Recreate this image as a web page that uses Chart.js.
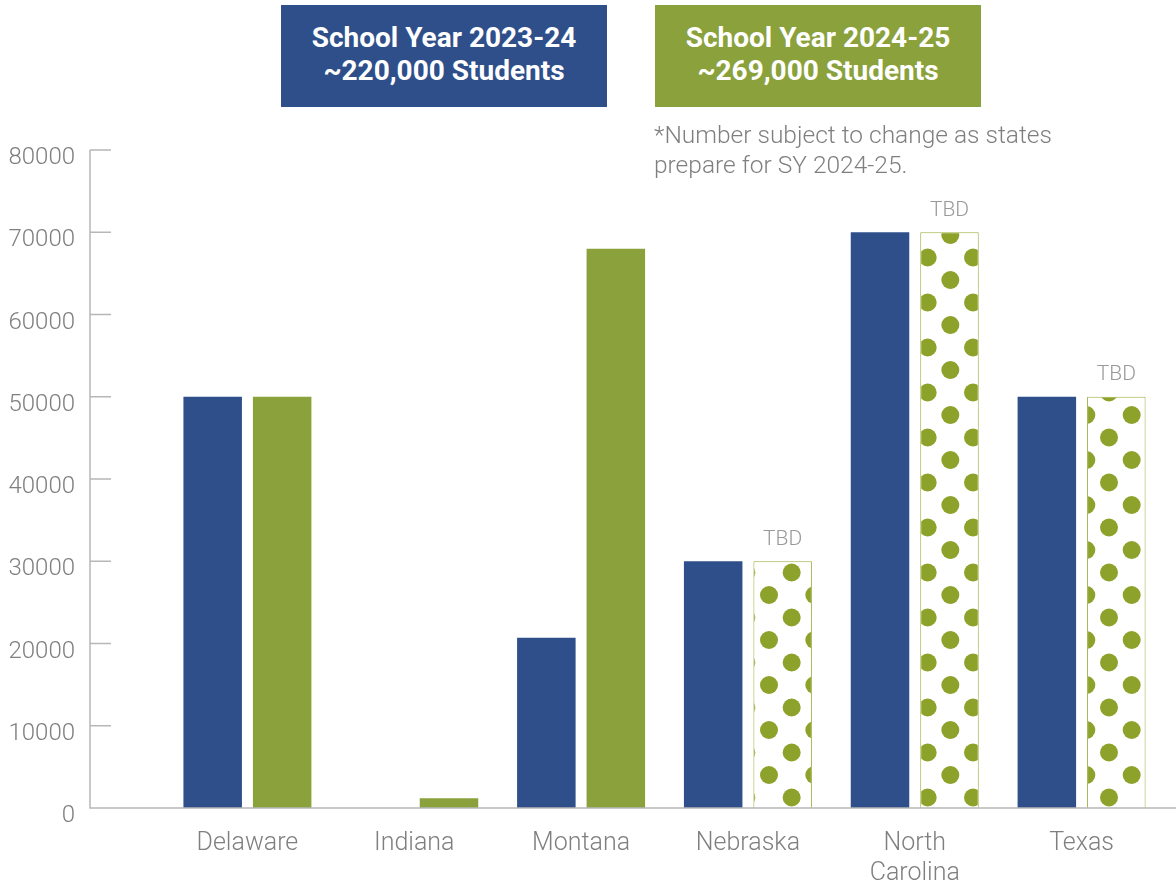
<!DOCTYPE html>
<html lang="en">
<head>
  <meta charset="UTF-8">
  <title>Students by State</title>
  <script src="https://cdn.jsdelivr.net/npm/chart.js"></script>
  <style>
    html, body { margin: 0; padding: 0; background: #fff; overflow: hidden; }
    .wrap { position: relative; width: 1176px; height: 888px; font-family: Roboto, sans-serif; }
    #studentsChart { position: absolute; left: 0; top: 0; }
    .head {
      position: absolute; top: 5px; width: 326px; height: 102px;
      box-sizing: border-box; padding-top: 16px;
      color: #fff; font-weight: 700; font-size: 28px; line-height: 33px; text-align: center;
    }
    .sy1 { left: 281px; background: #2F4F8B; }
    .sy2 { left: 655px; background: #8BA13C; }
    .note {
      position: absolute; left: 654px; top: 120px;
      font-size: 24.5px; font-weight: 300; line-height: 30px; color: #7f7f7f;
    }
  </style>
</head>
<body>
<div class="wrap">
  <canvas id="studentsChart" width="1176" height="888"></canvas>
  <div class="head sy1">School Year 2023-24<br>~220,000 Students</div>
  <div class="head sy2">School Year 2024-25<br>~269,000 Students</div>
  <div class="note">*Number subject to change as states<br>prepare for SY 2024-25.</div>
</div>

<script>
  // data
  const states = ['Delaware', 'Indiana', 'Montana', 'Nebraska', ['North', 'Carolina'], 'Texas'];
  const sy2324 = [50000, 0, 20700, 30000, 70000, 50000];
  const sy2425 = [50000, 1200, 68000, 30000, 70000, 50000];
  const tbd = [false, false, false, true, true, true];   // 2024-25 not final yet
  const yMax = 80000;
  const yStep = 10000;

  const BLUE = '#2F4F8B';
  const GREEN = '#8BA13C';
  const DOT = '#8DA22B';
  const GREY = '#7f7f7f';
  const AXIS = '#b7b7b7';

  // polka dot fill for the TBD bars
  function dotPattern() {
    const w = 136, h = 45;
    const c = document.createElement('canvas');
    c.width = w; c.height = h;
    const g = c.getContext('2d');
    g.fillStyle = '#fff';
    g.fillRect(0, 0, w, h);
    g.fillStyle = DOT;
    const pts = [[89, 10], [134.33, 10], [43.67, 10], [111.67, 32.5], [66.33, 32.5], [21, 32.5]];
    pts.forEach(([x, y]) => {
      [-w, 0, w].forEach(dx => {
        [-h, 0, h].forEach(dy => {
          g.beginPath();
          g.arc(x + dx, y + dy, 9, 0, Math.PI * 2);
          g.fill();
        });
      });
    });
    return g.createPattern(c, 'repeat');
  }
  const dots = dotPattern();

  // axis lines reach past the plot area, drawn by hand
  const axisLines = {
    id: 'axisLines',
    afterDatasetsDraw(chart) {
      const ctx = chart.ctx;
      const y = chart.scales.y;
      const x0 = 90;
      ctx.save();
      ctx.strokeStyle = AXIS;
      ctx.lineWidth = 1.5;
      ctx.beginPath();
      ctx.moveTo(x0, y.getPixelForValue(yMax));
      ctx.lineTo(x0, y.getPixelForValue(0));
      ctx.lineTo(chart.width, y.getPixelForValue(0));
      y.ticks.forEach(t => {
        const py = y.getPixelForValue(t.value);
        ctx.moveTo(x0, py);
        ctx.lineTo(x0 + 21, py);
      });
      ctx.stroke();

      // TBD labels
      const meta = chart.getDatasetMeta(1);
      ctx.fillStyle = '#999';
      ctx.font = '300 21px Roboto';
      ctx.textAlign = 'center';
      ctx.textBaseline = 'middle';
      meta.data.forEach((bar, i) => {
        if (tbd[i]) ctx.fillText('TBD', bar.x, bar.y - 22);
      });
      ctx.restore();
    }
  };

  const ctx = document.getElementById('studentsChart').getContext('2d');
  new Chart(ctx, {
    type: 'bar',
    data: {
      labels: states,
      datasets: [{
        label: 'School Year 2023-24',
        data: sy2324,
        backgroundColor: BLUE,
        borderWidth: 0
      }, {
        label: 'School Year 2024-25',
        data: sy2425,
        backgroundColor: tbd.map(t => t ? dots : GREEN),
        borderColor: '#9BAE3F',
        borderWidth: tbd.map(t => t ? 1 : 0)
      }]
    },
    options: {
      responsive: false,
      animation: false,
      categoryPercentage: 0.833,
      barPercentage: 0.842,
      layout: { padding: { top: 150, right: 11, left: 0, bottom: 0 } },
      plugins: {
        legend: { display: false },
        tooltip: { enabled: false }
      },
      scales: {
        x: {
          grid: { display: false },
          border: { display: false },
          ticks: {
            color: GREY,
            padding: 13,
            font: { family: 'Roboto', size: 25, weight: '300', lineHeight: 1.2 },
            maxRotation: 0
          },
          afterFit(scale) { scale.height = 80; }
        },
        y: {
          min: 0,
          max: yMax,
          grid: { display: false, drawTicks: true, tickLength: 89 },
          border: { display: false },
          ticks: {
            stepSize: yStep,
            color: GREY,
            padding: 0,
            labelOffset: 8,
            font: { family: 'Roboto', size: 24, weight: '300' },
            callback: v => String(v)
          },
          afterFit(scale) { scale.width = 164; }
        }
      }
    },
    plugins: [axisLines]
  });
</script>
</body>
</html>
